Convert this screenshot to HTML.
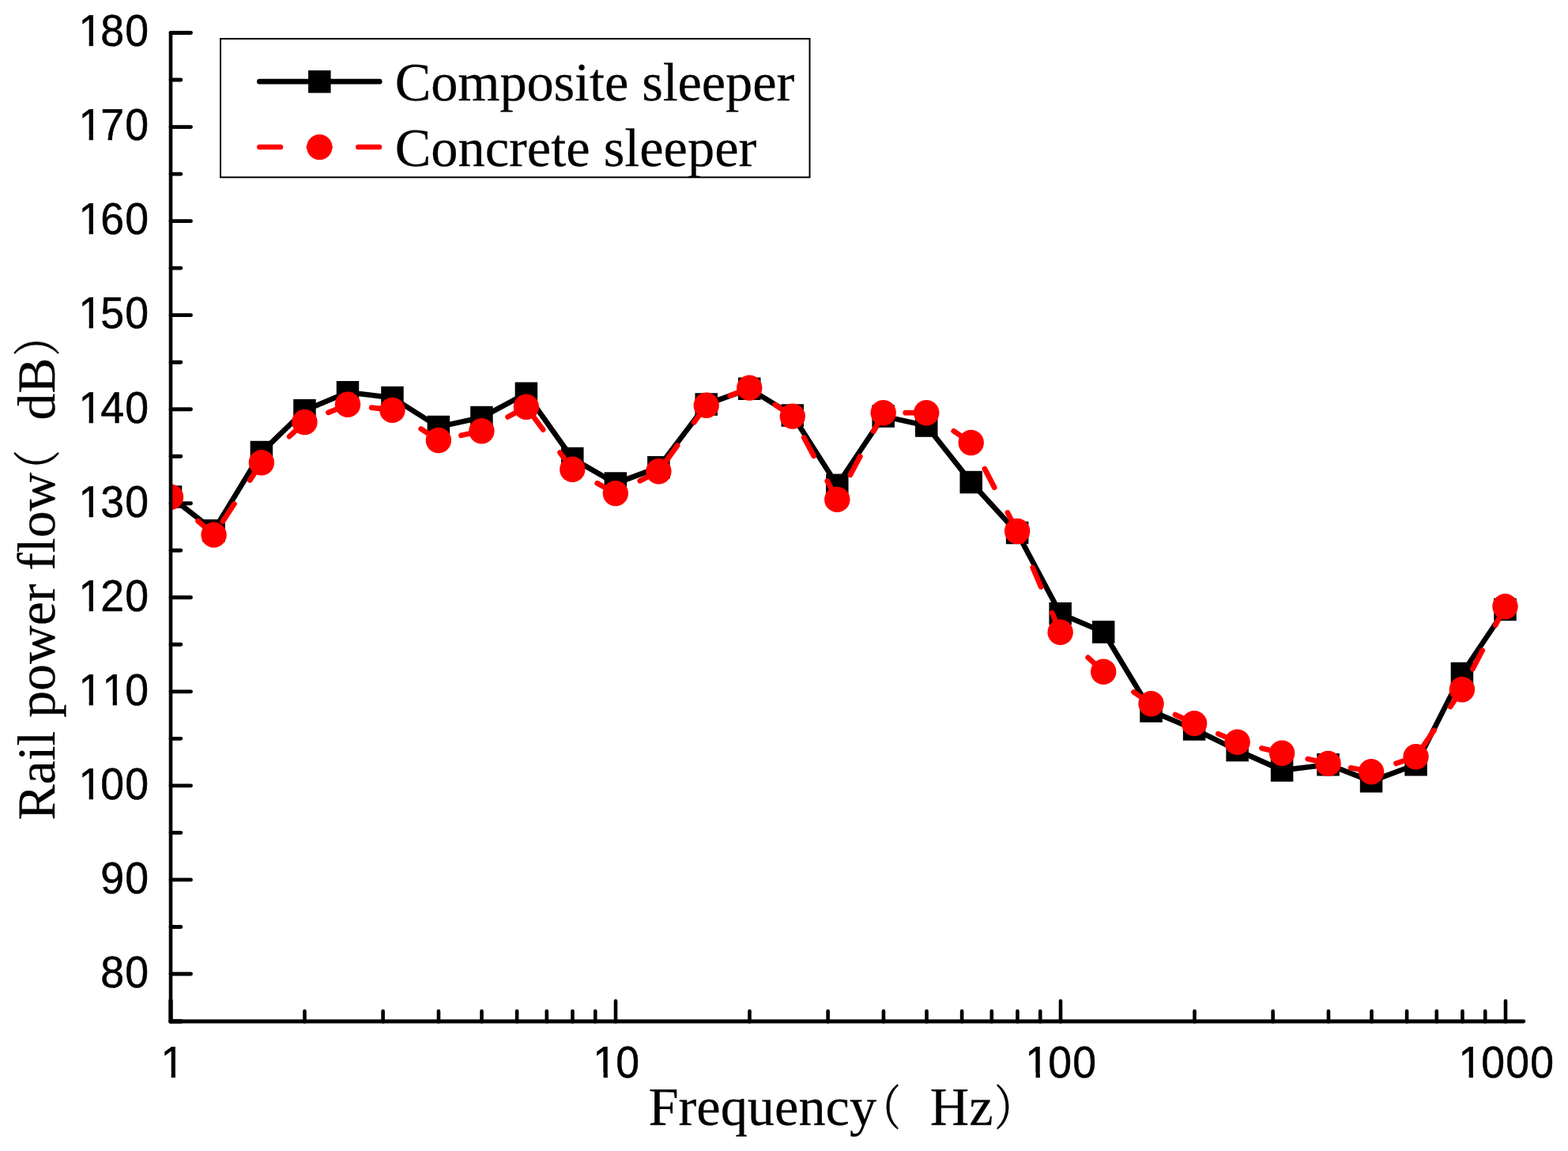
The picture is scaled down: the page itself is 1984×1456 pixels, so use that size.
<!DOCTYPE html>
<html lang="en"><head><meta charset="utf-8"><title>Rail power flow</title>
<style>html,body{margin:0;padding:0;background:#fff}body{width:1984px;height:1456px;overflow:hidden}svg{display:block}text{font-kerning:none;fill:#000;stroke:#000;text-rendering:geometricPrecision}.ax{font-family:"Liberation Sans",sans-serif;font-size:55.8px;stroke-width:.55px}.ti{font-family:"Liberation Serif","Noto Serif CJK SC",serif;font-size:68.4px;stroke-width:.25px}.yt{font-size:67.7px}.cj{font-family:"Noto Serif CJK SC","Liberation Serif",serif;font-size:60.5px;stroke:#000;stroke-width:.6px}</style></head><body>
<svg width="1984" height="1456" viewBox="0 0 1984 1456">
<rect width="1984" height="1456" fill="#fff"/>
<defs><clipPath id="pc"><rect x="216" y="0" width="1768" height="1456"/></clipPath></defs>
<g fill="none" stroke="#000" stroke-linecap="round">
<path d="M216 1231.95H241.5M216 1112.91H241.5M216 993.87H241.5M216 874.83H241.5M216 755.79H241.5M216 636.75H241.5M216 517.71H241.5M216 398.67H241.5M216 279.63H241.5M216 160.59H241.5M216 41.55H241.5M216 1172.43H228.8M216 1053.39H228.8M216 934.35H228.8M216 815.31H228.8M216 696.27H228.8M216 577.23H228.8M216 458.19H228.8M216 339.15H228.8M216 220.11H228.8M216 101.07H228.8" stroke-width="4.9"/>
<path d="M385.48 1292.4V1279.1M484.62 1292.4V1279.1M554.96 1292.4V1279.1M609.52 1292.4V1279.1M654.1 1292.4V1279.1M691.79 1292.4V1279.1M724.44 1292.4V1279.1M753.24 1292.4V1279.1M779 1292.4V1266.3M948.48 1292.4V1279.1M1047.62 1292.4V1279.1M1117.96 1292.4V1279.1M1172.52 1292.4V1279.1M1217.1 1292.4V1279.1M1254.79 1292.4V1279.1M1287.44 1292.4V1279.1M1316.24 1292.4V1279.1M1342 1292.4V1266.3M1511.48 1292.4V1279.1M1610.62 1292.4V1279.1M1680.96 1292.4V1279.1M1735.52 1292.4V1279.1M1780.1 1292.4V1279.1M1817.79 1292.4V1279.1M1850.44 1292.4V1279.1M1879.24 1292.4V1279.1M1905 1292.4V1266.3" stroke-width="4.6"/>
</g>
<g clip-path="url(#pc)">
<polyline points="216,628.4 270.54,671.25 330.88,572.1 385.43,519.25 439.97,496.25 496.46,503.1 554.86,540 609.4,528 665.89,497.75 724.29,580 778.83,611.5 833.37,591.25 893.71,511.5 948.26,491.75 1002.8,525.4 1059.29,613.75 1117.69,526.4 1172.23,538.5 1228.72,609.9 1287.12,673.9 1341.66,776.3 1396.2,799.5 1456.54,899.4 1511.09,922.5 1565.63,949.1 1622.12,974.4 1680.52,967.2 1735.06,988.25 1791.55,967.25 1849.95,852.1 1904.49,771" fill="none" stroke="#000" stroke-width="6.7" stroke-linejoin="round" stroke-linecap="round"/>
<path d="M201.75 614.15h28.5v28.5h-28.5zM256.29 657h28.5v28.5h-28.5zM316.63 557.85h28.5v28.5h-28.5zM371.18 505h28.5v28.5h-28.5zM425.72 482h28.5v28.5h-28.5zM482.21 488.85h28.5v28.5h-28.5zM540.61 525.75h28.5v28.5h-28.5zM595.15 513.75h28.5v28.5h-28.5zM651.64 483.5h28.5v28.5h-28.5zM710.04 565.75h28.5v28.5h-28.5zM764.58 597.25h28.5v28.5h-28.5zM819.12 577h28.5v28.5h-28.5zM879.46 497.25h28.5v28.5h-28.5zM934.01 477.5h28.5v28.5h-28.5zM988.55 511.15h28.5v28.5h-28.5zM1045.04 599.5h28.5v28.5h-28.5zM1103.44 512.15h28.5v28.5h-28.5zM1157.98 524.25h28.5v28.5h-28.5zM1214.47 595.65h28.5v28.5h-28.5zM1272.87 659.65h28.5v28.5h-28.5zM1327.41 762.05h28.5v28.5h-28.5zM1381.95 785.25h28.5v28.5h-28.5zM1442.29 885.15h28.5v28.5h-28.5zM1496.84 908.25h28.5v28.5h-28.5zM1551.38 934.85h28.5v28.5h-28.5zM1607.87 960.15h28.5v28.5h-28.5zM1666.27 952.95h28.5v28.5h-28.5zM1720.81 974h28.5v28.5h-28.5zM1777.3 953h28.5v28.5h-28.5zM1835.7 837.85h28.5v28.5h-28.5zM1890.24 756.75h28.5v28.5h-28.5z" fill="#000"/>
<path d="M270.54 676.6L216 628.75M330.88 585.3L270.54 676.6M385.43 534L330.88 585.3M439.97 511.8L385.43 534M496.46 518.9L439.97 511.8M554.86 557L496.46 518.9M609.4 545.2L554.86 557M665.89 514.8L609.4 545.2M724.29 593.8L665.89 514.8M778.83 624.1L724.29 593.8M833.37 596.3L778.83 624.1M893.71 512.8L833.37 596.3M948.26 490.6L893.71 512.8M1002.8 526.6L948.26 490.6M1059.29 631.9L1002.8 526.6M1117.69 522.2L1059.29 631.9M1172.23 522.2L1117.69 522.2M1228.72 560L1172.23 522.2M1287.12 672L1228.72 560M1341.66 799.8L1287.12 672M1396.2 849.7L1341.66 799.8M1456.54 890.2L1396.2 849.7M1511.09 915.1L1456.54 890.2M1565.63 938.75L1511.09 915.1M1622.12 952.8L1565.63 938.75M1680.52 965.9L1622.12 952.8M1735.06 976.25L1680.52 965.9M1791.55 957.3L1735.06 976.25M1849.95 872.2L1791.55 957.3M1904.49 767.3L1849.95 872.2" fill="none" stroke="#f00" stroke-width="6.7" stroke-linecap="round" stroke-dasharray="26.5 36"/>
<g fill="#f00">
<circle cx="216" cy="628.75" r="16.2"/>
<circle cx="270.54" cy="676.6" r="16.2"/>
<circle cx="330.88" cy="585.3" r="16.2"/>
<circle cx="385.43" cy="534" r="16.2"/>
<circle cx="439.97" cy="511.8" r="16.2"/>
<circle cx="496.46" cy="518.9" r="16.2"/>
<circle cx="554.86" cy="557" r="16.2"/>
<circle cx="609.4" cy="545.2" r="16.2"/>
<circle cx="665.89" cy="514.8" r="16.2"/>
<circle cx="724.29" cy="593.8" r="16.2"/>
<circle cx="778.83" cy="624.1" r="16.2"/>
<circle cx="833.37" cy="596.3" r="16.2"/>
<circle cx="893.71" cy="512.8" r="16.2"/>
<circle cx="948.26" cy="490.6" r="16.2"/>
<circle cx="1002.8" cy="526.6" r="16.2"/>
<circle cx="1059.29" cy="631.9" r="16.2"/>
<circle cx="1117.69" cy="522.2" r="16.2"/>
<circle cx="1172.23" cy="522.2" r="16.2"/>
<circle cx="1228.72" cy="560" r="16.2"/>
<circle cx="1287.12" cy="672" r="16.2"/>
<circle cx="1341.66" cy="799.8" r="16.2"/>
<circle cx="1396.2" cy="849.7" r="16.2"/>
<circle cx="1456.54" cy="890.2" r="16.2"/>
<circle cx="1511.09" cy="915.1" r="16.2"/>
<circle cx="1565.63" cy="938.75" r="16.2"/>
<circle cx="1622.12" cy="952.8" r="16.2"/>
<circle cx="1680.52" cy="965.9" r="16.2"/>
<circle cx="1735.06" cy="976.25" r="16.2"/>
<circle cx="1791.55" cy="957.3" r="16.2"/>
<circle cx="1849.95" cy="872.2" r="16.2"/>
<circle cx="1904.49" cy="767.3" r="16.2"/>
</g></g>
<g fill="none" stroke="#000" stroke-linecap="round">
<path d="M216 41.55V1292" stroke-width="4.6"/>
<path d="M216 1292H1927.8" stroke-width="4.9"/>
<path d="M216 1292V1266" stroke-width="5.3"/>
<path d="M216 1292H229" stroke-width="5.4"/>
</g>
<text class="ax" transform="translate(126.73 1249) scale(0.96 1.01)" letter-spacing="1.23"><tspan x="0.61">80</tspan></text>
<text class="ax" transform="translate(126.73 1130) scale(0.96 1.01)" letter-spacing="1.23"><tspan x="0.61">90</tspan></text>
<text class="ax" transform="translate(95.7 1011) scale(0.96 1.01)" letter-spacing="1.23"><tspan x="3.88">1</tspan><tspan x="32.87">00</tspan></text><path d="M102.02 1004.77H112.65v7.73H102.02zM117.95 1004.77H127.66v7.73H117.95z" fill="#fff"/>
<text class="ax" transform="translate(95.7 892) scale(0.96 1.01)" letter-spacing="1.23"><tspan x="3.88">1</tspan><tspan x="35.1">1</tspan><tspan x="65.13">0</tspan></text><path d="M102.02 885.77H112.65v7.73H102.02zM117.95 885.77H127.66v7.73H117.95zM132.05 885.77H142.69v7.73H132.05zM147.98 885.77H157.7v7.73H147.98z" fill="#fff"/>
<text class="ax" transform="translate(95.7 773) scale(0.96 1.01)" letter-spacing="1.23"><tspan x="3.88">1</tspan><tspan x="32.87">20</tspan></text><path d="M102.02 766.77H112.65v7.73H102.02zM117.95 766.77H127.66v7.73H117.95z" fill="#fff"/>
<text class="ax" transform="translate(95.7 654) scale(0.96 1.01)" letter-spacing="1.23"><tspan x="3.88">1</tspan><tspan x="32.87">30</tspan></text><path d="M102.02 647.77H112.65v7.73H102.02zM117.95 647.77H127.66v7.73H117.95z" fill="#fff"/>
<text class="ax" transform="translate(95.7 535) scale(0.96 1.01)" letter-spacing="1.23"><tspan x="3.88">1</tspan><tspan x="32.87">40</tspan></text><path d="M102.02 528.77H112.65v7.73H102.02zM117.95 528.77H127.66v7.73H117.95z" fill="#fff"/>
<text class="ax" transform="translate(95.7 415) scale(0.96 1.01)" letter-spacing="1.23"><tspan x="3.88">1</tspan><tspan x="32.87">50</tspan></text><path d="M102.02 408.77H112.65v7.73H102.02zM117.95 408.77H127.66v7.73H117.95z" fill="#fff"/>
<text class="ax" transform="translate(95.7 296) scale(0.96 1.01)" letter-spacing="1.23"><tspan x="3.88">1</tspan><tspan x="32.87">60</tspan></text><path d="M102.02 289.77H112.65v7.73H102.02zM117.95 289.77H127.66v7.73H117.95z" fill="#fff"/>
<text class="ax" transform="translate(95.7 177) scale(0.96 1.01)" letter-spacing="1.23"><tspan x="3.88">1</tspan><tspan x="32.87">70</tspan></text><path d="M102.02 170.77H112.65v7.73H102.02zM117.95 170.77H127.66v7.73H117.95z" fill="#fff"/>
<text class="ax" transform="translate(95.7 58) scale(0.96 1.01)" letter-spacing="1.23"><tspan x="3.88">1</tspan><tspan x="32.87">80</tspan></text><path d="M102.02 51.77H112.65v7.73H102.02zM117.95 51.77H127.66v7.73H117.95z" fill="#fff"/>
<text class="ax" transform="translate(200.68 1363) scale(0.96 1.01)" letter-spacing="1.23"><tspan x="2.84">1</tspan></text><path d="M206 1356.77H216.64v7.73H206zM221.93 1356.77H231.65v7.73H221.93z" fill="#fff"/>
<text class="ax" transform="translate(747.62 1363) scale(0.96 1.01)" letter-spacing="1.23"><tspan x="2.84">1</tspan><tspan x="32.87">0</tspan></text><path d="M752.94 1356.77H763.57v7.73H752.94zM768.86 1356.77H778.58v7.73H768.86z" fill="#fff"/>
<text class="ax" transform="translate(1294.65 1363) scale(0.96 1.01)" letter-spacing="1.23"><tspan x="2.84">1</tspan><tspan x="32.87">00</tspan></text><path d="M1299.97 1356.77H1310.6v7.73H1299.97zM1315.9 1356.77H1325.61v7.73H1315.9z" fill="#fff"/>
<text class="ax" transform="translate(1842.73 1363) scale(0.96 1.01)" letter-spacing="1.23"><tspan x="2.84">1</tspan><tspan x="32.87">000</tspan></text><path d="M1848.05 1356.77H1858.69v7.73H1848.05zM1863.98 1356.77H1873.7v7.73H1863.98z" fill="#fff"/>
<text class="ti" y="1423.2"><tspan x="820.5">Frequency</tspan><tspan class="cj" textLength="51.2" lengthAdjust="spacingAndGlyphs" x="1088.6">（</tspan><tspan x="1159.7"> Hz</tspan><tspan class="cj" textLength="51.2" lengthAdjust="spacingAndGlyphs" x="1258.3">）</tspan></text>
<text class="ti yt" transform="translate(69.3 1037.5) rotate(-90)"><tspan x="0">Rail power flow</tspan><tspan class="cj" textLength="51.2" lengthAdjust="spacingAndGlyphs" x="417">（</tspan><tspan x="489"> dB</tspan><tspan class="cj" textLength="51.2" lengthAdjust="spacingAndGlyphs" x="587">）</tspan></text>
<rect x="279" y="49" width="745.5" height="175.3" fill="#fff" stroke="#000" stroke-width="2"/>
<path d="M328.4 103.2H480.2" fill="none" stroke="#000" stroke-width="6.7" stroke-linecap="round"/>
<rect x="390.05" y="89.05" width="28.5" height="28.5" fill="#000"/>
<path d="M479.9 186H328.4" fill="none" stroke="#f00" stroke-width="6.7" stroke-linecap="round" stroke-dasharray="26.5 36"/>
<circle cx="404.3" cy="186.1" r="16.2" fill="#f00"/>
<text class="ti" x="499.7" y="127.1" letter-spacing="-0.1">Composite sleeper</text>
<text class="ti" x="499.7" y="209.8">Concrete sleeper</text>
</svg></body></html>
